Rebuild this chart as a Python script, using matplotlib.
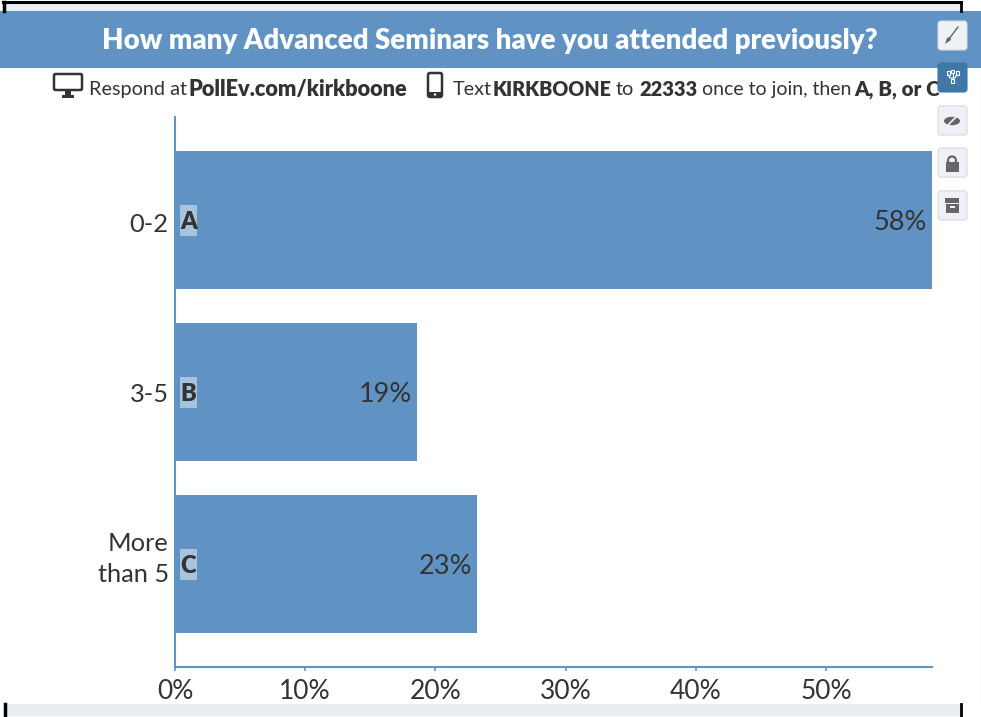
import matplotlib
matplotlib.use("Agg")
import matplotlib.pyplot as plt
from matplotlib.patches import Rectangle, FancyBboxPatch, Polygon, Circle, Ellipse
from matplotlib.transforms import ScaledTranslation

plt.rcParams['font.family'] = ['Lato', 'DejaVu Sans']

# chart data
categories = ['0-2', '3-5', 'More\nthan 5']
letters = ['A', 'B', 'C']
values = [58.14, 18.6, 23.2]
value_labels = ['58%', '19%', '23%']
xticks = [0, 10, 20, 30, 40, 50]
xtick_labels = ['0%', '10%', '20%', '30%', '40%', '50%']

title = 'How many Advanced Seminars have you attended previously?'
# pieces of the instruction line: text, bold, left edge in px, font size
sub_parts = [
    ('Respond at', False, 89, 14.3),
    ('PollEv.com/kirkboone', True, 189, 15.7),
    ('Text', False, 453, 14.3),
    ('KIRKBOONE', True, 493, 14.2),
    ('to', False, 616, 14.3),
    ('22333', True, 639, 14.5),
    ('once to join, then', False, 702, 14),
    ('A, B, or C', True, 854, 14.8),
]

W, H = 981, 717
BLUE = '#6092c3'
DARK = '#333333'

fig = plt.figure(figsize=(W / 100, H / 100), dpi=100, facecolor='white')

# overlay in pixel coords for the page stuff around the chart
bg = fig.add_axes([0, 0, 1, 1], zorder=0)
bg.set_xlim(0, W)
bg.set_ylim(H, 0)
bg.axis('off')

# window frame
bg.add_patch(Rectangle((4, 2), 958, 9, fc='#e9eef3', ec='none'))
bg.plot([3, 961], [2, 2], color='black', lw=2.2)
bg.plot([4, 4], [2, 11], color='black', lw=2.5)
bg.plot([961, 961], [2, 11], color='black', lw=2)
bg.add_patch(Rectangle((6, 704), 955, 12, fc='#e9eef3', ec='none'))
bg.plot([4.5, 4.5], [704, 717], color='black', lw=2.5)
bg.plot([961, 961], [704, 717], color='black', lw=2)
bg.plot([6, 961], [716.5, 716.5], color='#777777', lw=0.8)
bg.plot([980.5, 980.5], [68, 702], color='#999999', lw=0.8)

# banner
bg.add_patch(Rectangle((0, 11), W, 57, fc=BLUE, ec='none'))
bg.text(489.5, 41, title, color='white', fontsize=19.9, fontweight='heavy', ha='center', va='center')

# instruction line
for txt, bold, x, size in sub_parts:
    bg.text(x, 89.5, txt, color=DARK, fontsize=size,
            fontweight='heavy' if bold else 'normal', ha='left', va='center')

# monitor icon
bg.add_patch(FancyBboxPatch((54, 74), 28, 16, boxstyle='round,pad=0,rounding_size=1.5',
                            fc='white', ec=DARK, lw=1.8))
bg.add_patch(Polygon([(65, 91), (71, 91), (71, 95), (74, 95), (74, 98), (62, 98), (62, 95), (65, 95)],
                     fc=DARK, ec='none'))
# phone icon
bg.add_patch(FancyBboxPatch((428, 73), 14, 24, boxstyle='round,pad=0,rounding_size=2',
                            fc='white', ec=DARK, lw=1.8))
bg.add_patch(Rectangle((428, 92), 14, 5, fc=DARK, ec='none'))
bg.add_patch(Circle((435, 94.5), 1.2, fc='white', ec='none'))

# chart
left, right, top, bottom = 175, 932, 117, 667
ppx = 13.02
band = 172.0
ax = fig.add_axes([left / W, 1 - bottom / H, (right - left) / W, (bottom - top) / H], zorder=1)
ax.patch.set_alpha(0)
ax.set_xlim(0, (right - left) / ppx)
ax.set_ylim((bottom - 220) / band, (top - 220) / band)

positions = list(range(len(categories)))
ax.barh(positions, values, height=137.5 / band, color=BLUE, edgecolor='none')

ax.set_yticks(positions)
ax.set_yticklabels(categories, fontsize=18.3, color=DARK, linespacing=1.45)
ax.set_xticks(xticks)
ax.set_xticklabels(xtick_labels, fontsize=19, color=DARK)
ax.tick_params(axis='y', length=0, pad=4.5)
ax.tick_params(axis='x', length=3, width=1.2, color=BLUE, pad=5.5)

# multi line label sits higher than its band in the reference
for lab, dy in zip(ax.get_yticklabels(), [-1.5, -0.5, 8]):
    lab.set_transform(lab.get_transform() + ScaledTranslation(0, dy / 72, fig.dpi_scale_trans))

for s in ['top', 'right']:
    ax.spines[s].set_visible(False)
for s in ['left', 'bottom']:
    ax.spines[s].set_color(BLUE)
    ax.spines[s].set_linewidth(1.5)

for pos, val, lab, letter in zip(positions, values, value_labels, letters):
    ax.annotate(lab, (val, pos), xytext=(-3.5, -1.5), textcoords='offset points', ha='right',
                va='center', fontsize=19.5, color=DARK)
    ax.add_patch(Rectangle((5 / ppx, pos - 15 / band), 17 / ppx, 31 / band, fc='#a8c3de', ec='none'))
    ax.annotate(letter, (0, pos), xytext=(9.7, -1.5), textcoords='offset points', ha='center',
                va='center', fontsize=17, fontweight='heavy', color=DARK)

# toolbar buttons on the right, sit on top of the text
top_ax = fig.add_axes([0, 0, 1, 1], zorder=2)
top_ax.set_xlim(0, W)
top_ax.set_ylim(H, 0)
top_ax.axis('off')
button_tops = [21, 63, 106, 148, 191]
for i, by in enumerate(button_tops):
    active = i == 1
    top_ax.add_patch(FancyBboxPatch((938, by), 29, 29, boxstyle='round,pad=0,rounding_size=3',
                                    fc='#3f77a6' if active else '#eef1f5',
                                    ec='#3f77a6' if active else '#d5d9de', lw=0.8))
# brush
top_ax.add_patch(Polygon([(945, 44), (947, 38), (950, 37), (951, 40)], fc='#666666', ec='none'))
top_ax.plot([949, 958], [39, 27], color='#666666', lw=1)
# hierarchy icon
for bx, bty in [(946.5, 71), (951, 69.5), (955.5, 71), (951, 79)]:
    top_ax.add_patch(Rectangle((bx, bty), 3, 3.5, fc='none', ec='white', lw=0.8))
top_ax.plot([948, 950, 955, 957], [75, 78, 78, 75], color='white', lw=0.8)
top_ax.plot([952.5, 952.5], [74, 79], color='white', lw=0.8)
# hidden eye
top_ax.add_patch(Ellipse((952, 121), 16, 8.5, fc='#666666', ec='none'))
top_ax.plot([947, 958], [126, 115], color='#eef1f5', lw=1.2)
# lock
top_ax.add_patch(Rectangle((945.5, 162), 13, 9.5, fc='#666666', ec='none'))
top_ax.add_patch(Circle((952, 160.5), 4, fc='none', ec='#666666', lw=1.6))
# archive box
top_ax.add_patch(Rectangle((945, 198), 14, 5, fc='#666666', ec='none'))
top_ax.add_patch(Rectangle((945.5, 204), 13, 9, fc='#666666', ec='none'))
top_ax.add_patch(Rectangle((949.5, 206), 5, 1.6, fc='#eef1f5', ec='none'))

fig.savefig('out.png', dpi=100)
